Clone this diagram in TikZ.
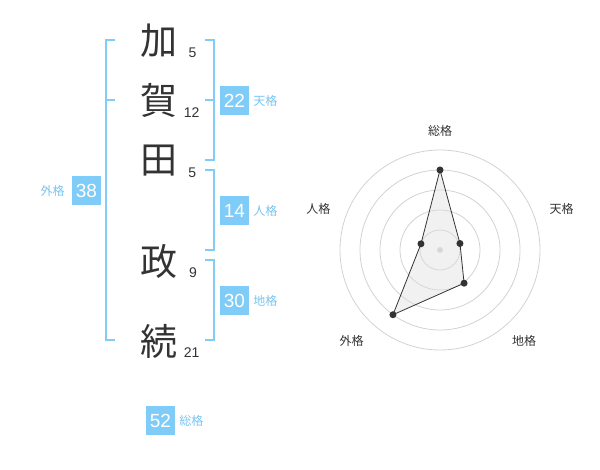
\documentclass[tikz,border=0pt]{standalone}
\usepackage{fontspec}
\setmainfont{Liberation Sans}
\newfontfamily\jp{Noto Sans CJK JP}
\usetikzlibrary{positioning, calc}
\definecolor{skyline}{RGB}{130,204,248}
\definecolor{skybox}{RGB}{128,204,248}
\definecolor{skytext}{RGB}{120,196,240}
\definecolor{ink}{RGB}{51,51,51}
\definecolor{ring}{RGB}{210,210,210}

\begin{document}
\begin{tikzpicture}[x=1pt, y=-1pt,
    kanji/.style={font=\jp\fontsize{37}{37}\selectfont, text=ink, inner sep=0pt},
    stroke/.style={font=\fontsize{14}{14}\selectfont, text=ink, inner sep=0pt},
    scorebox/.style={fill=skybox, text=white, minimum size=29pt, inner sep=0pt, font=\fontsize{19}{19}\selectfont},
    gelabel/.style={text=skytext, font=\jp\fontsize{12}{12}\selectfont, inner sep=0pt},
    bracket/.style={draw=skyline, line width=2pt},
    axislabel/.style={text=ink, font=\jp\fontsize{12}{12}\selectfont, inner sep=0pt}]
\useasboundingbox (0,0) rectangle (600,470);
% Name characters
\node[kanji] (ka) at (159,41) {加};
\node[kanji] (ga) at (159,100) {賀};
\node[kanji] (ta) at (159,161) {田};
\node[kanji] (ma) at (159,261) {政};
\node[kanji] (tsu) at (159,341) {続};
% Stroke counts
\node[stroke] (ska) at (192.5,53) {5};
\node[stroke] (sga) at (191.7,112.7) {12};
\node[stroke] (sta) at (192.3,172.5) {5};
\node[stroke] (sma) at (193,272.5) {9};
\node[stroke] (stsu) at (191.7,353) {21};
% Brackets
\draw[bracket] (115,40) -- (106,40) -- (106,340) -- (115,340);
\draw[bracket] (106,100) -- (115,100);
\draw[bracket] (205,40) -- (214,40) -- (214,160) -- (205,160);
\draw[bracket] (205,100) -- (214,100);
\draw[bracket] (205,170) -- (214,170) -- (214,250) -- (205,250);
\draw[bracket] (205,260) -- (214,260) -- (214,340) -- (205,340);
% Scores
\node[scorebox] (ten) at (234.5,100.5) {22};
\node[gelabel, right=4pt of ten] (tenl) {天格};
\node[scorebox] (jin) at (234.5,210.5) {14};
\node[gelabel, right=4pt of jin] (jinl) {人格};
\node[scorebox] (chi) at (234.5,300.5) {30};
\node[gelabel, right=4pt of chi] (chil) {地格};
\node[scorebox] (gai) at (86.5,190.5) {38};
\node[gelabel, left=7pt of gai] (gail) {外格};
\node[scorebox] (sou) at (160.5,420.5) {52};
\node[gelabel, right=4pt of sou] (soul) {総格};
% Radar chart
\begin{scope}[shift={(440,250)}, yscale=-1]
\foreach \r in {20,40,...,100}
    \draw[ring, line width=0.8pt] (0,0) circle (\r pt);
\fill[ring] (0,0) circle (3pt);
\coordinate (psou) at (90:80);
\coordinate (pten) at (18:21);
\coordinate (pchi) at (-54:41);
\coordinate (pgai) at (-126:80);
\coordinate (pjin) at (162:20);
\fill[gray!25, opacity=0.45] (psou) -- (pten) -- (pchi) -- (pgai) -- (pjin) -- cycle;
\draw[ink, line width=0.8pt] (psou) -- (pten) -- (pchi) -- (pgai) -- (pjin) -- cycle;
\foreach \p in {psou,pten,pchi,pgai,pjin}
    \fill[ink] (\p) circle (3.5pt);
\end{scope}
% Axis labels
\node[axislabel] (asou) at (440,130.5) {総格};
\node[axislabel] (aten) at (561.7,208.5) {天格};
\node[axislabel] (achi) at (524.2,341) {地格};
\node[axislabel] (agai) at (351.7,341) {外格};
\node[axislabel] (ajin) at (318.3,208.5) {人格};
\end{tikzpicture}
\end{document}
